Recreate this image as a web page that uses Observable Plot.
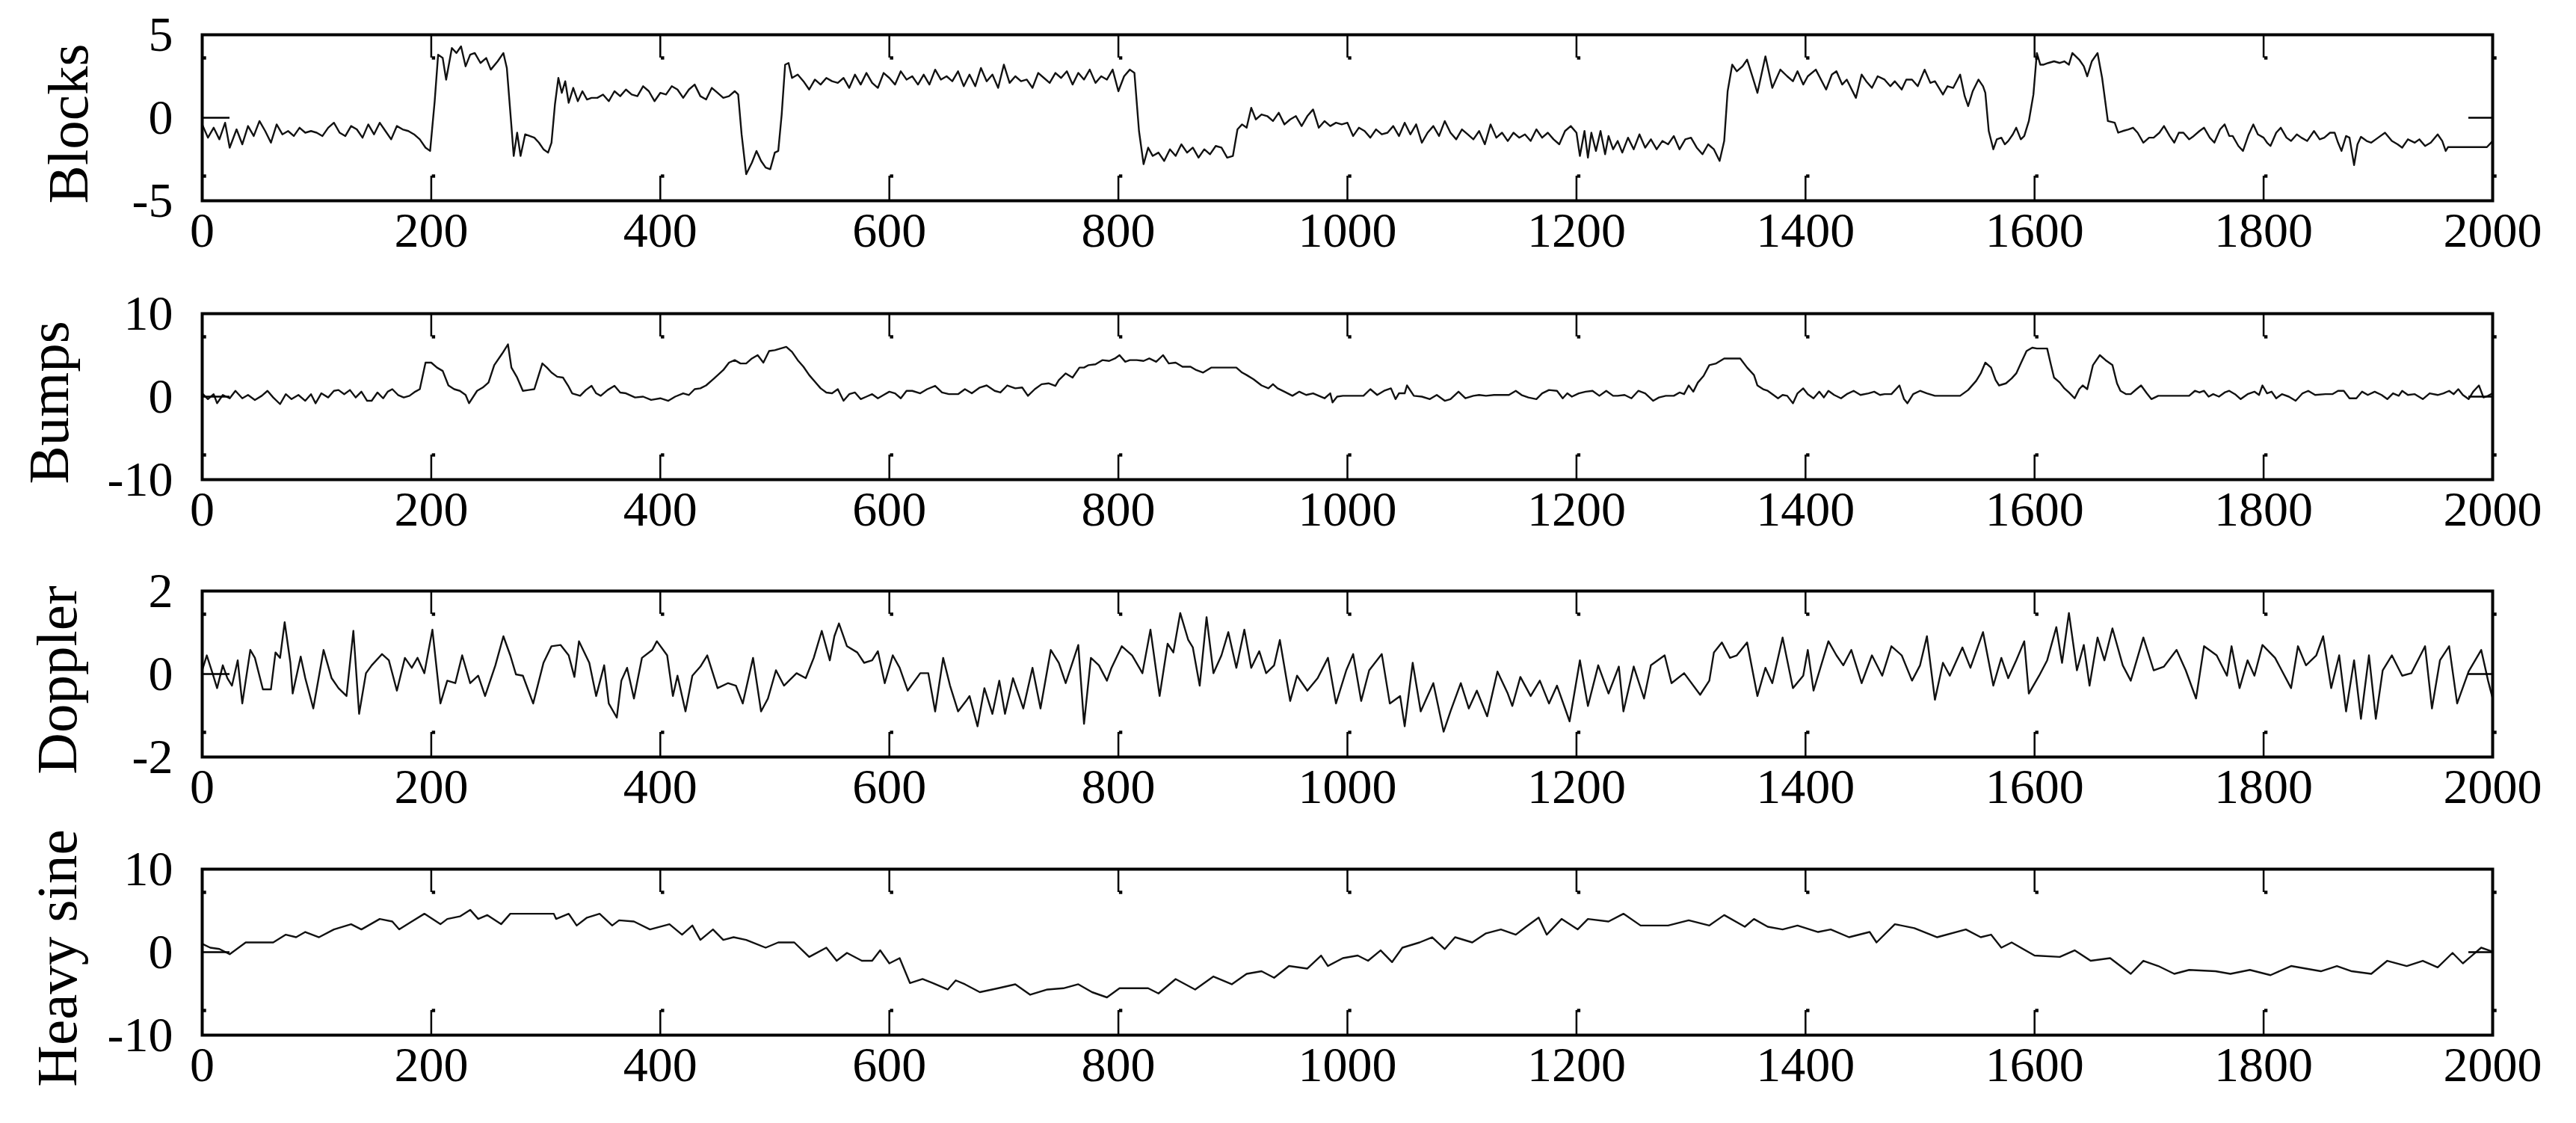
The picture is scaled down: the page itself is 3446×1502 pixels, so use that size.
<!DOCTYPE html>
<html><head><meta charset="utf-8">
<script src="https://cdn.jsdelivr.net/npm/d3@7"></script>
<script src="https://cdn.jsdelivr.net/npm/@observablehq/plot@0.6"></script>
<style>
body{margin:0;background:#fff;}
#chart{position:relative;width:3446px;height:1502px;background:#fff;overflow:hidden;}
#chart svg{position:absolute;left:0;}
</style></head><body><div id="chart"></div>
<script>
const xTicks = [0,200,400,600,800,1000,1200,1400,1600,1800,2000];
const seriesNames = ["Blocks","Bumps","Doppler","Heavy sine"];
const blocksTicks = [-5,0,5];
const bumpsTicks = [-10,0,10];
const dopplerTicks = [-2,0,2];
const heavyTicks = [-10,0,10];

const blocks = [[0,-0.4],[5,-1.2],[10,-0.6],[15,-1.3],[20,-0.3],[24,-1.8],[30,-0.7],[35,-1.6],[40,-0.5],[45,-1.1],[50,-0.2],[55,-0.8],[60,-1.5],[65,-0.4],[70,-1.0],[75,-0.8],[80,-1.1],[85,-0.6],[90,-0.9],[95,-0.8],[100,-0.9],[105,-1.1],[110,-0.6],[115,-0.3],[120,-0.9],[125,-1.1],[130,-0.5],[135,-0.7],[140,-1.2],[145,-0.4],[150,-1.0],[155,-0.3],[160,-0.8],[165,-1.3],[170,-0.5],[175,-0.7],[180,-0.8],[185,-1.0],[190,-1.3],[195,-1.8],[199,-2.0],[203,1.0],[206,3.8],[210,3.6],[213,2.3],[218,4.2],[222,3.9],[226,4.3],[230,3.1],[234,3.8],[238,3.9],[243,3.3],[248,3.6],[252,2.9],[258,3.4],[263,3.9],[266,3.0],[270,-0.5],[272,-2.3],[275,-0.9],[278,-2.3],[282,-1.0],[286,-1.1],[290,-1.2],[294,-1.5],[298,-1.9],[302,-2.1],[305,-1.5],[308,0.8],[311,2.4],[314,1.5],[317,2.2],[320,0.9],[324,1.8],[328,1.0],[332,1.6],[336,1.1],[340,1.2],[345,1.2],[350,1.4],[355,1.0],[360,1.6],[365,1.3],[370,1.7],[375,1.4],[380,1.3],[385,1.9],[390,1.6],[395,1.0],[400,1.5],[405,1.4],[410,1.9],[415,1.7],[420,1.2],[425,1.7],[430,2.0],[435,1.3],[440,1.1],[445,1.8],[450,1.5],[455,1.2],[460,1.3],[465,1.6],[468,1.4],[471,-1.0],[475,-3.4],[480,-2.7],[484,-2.0],[488,-2.6],[492,-3.0],[496,-3.1],[500,-2.1],[503,-2.0],[506,0.2],[509,3.2],[512,3.3],[515,2.4],[520,2.6],[525,2.2],[530,1.7],[535,2.3],[540,2.0],[545,2.4],[550,2.2],[555,2.1],[560,2.4],[565,1.8],[570,2.6],[575,2.0],[580,2.7],[585,2.1],[590,1.8],[595,2.7],[600,2.4],[605,2.0],[610,2.8],[615,2.3],[620,2.5],[625,2.0],[630,2.6],[635,2.0],[640,2.9],[645,2.3],[650,2.5],[655,2.2],[660,2.8],[665,1.9],[670,2.6],[675,1.9],[680,3.0],[685,2.2],[690,2.6],[695,1.8],[700,3.2],[705,2.1],[710,2.5],[715,2.2],[720,2.3],[725,1.8],[730,2.7],[735,2.4],[740,2.1],[745,2.7],[750,2.4],[755,2.8],[760,2.0],[765,2.7],[770,2.3],[775,2.9],[780,2.1],[785,2.5],[790,2.3],[795,2.9],[800,1.6],[805,2.5],[810,2.9],[814,2.7],[818,-0.8],[822,-2.8],[826,-1.8],[830,-2.3],[835,-2.1],[840,-2.6],[845,-1.9],[850,-2.3],[855,-1.6],[860,-2.1],[865,-1.8],[870,-2.4],[875,-1.9],[880,-2.2],[885,-1.7],[890,-1.8],[895,-2.4],[900,-2.3],[904,-0.7],[908,-0.4],[912,-0.6],[916,0.6],[920,-0.1],[925,0.2],[930,0.1],[935,-0.2],[940,0.3],[945,-0.4],[950,-0.1],[955,0.1],[960,-0.5],[965,0.1],[970,0.5],[975,-0.6],[980,-0.2],[985,-0.5],[990,-0.3],[995,-0.4],[1000,-0.3],[1005,-1.1],[1010,-0.6],[1015,-0.8],[1020,-1.2],[1025,-0.7],[1030,-1.0],[1035,-0.9],[1040,-0.5],[1045,-1.1],[1050,-0.3],[1055,-1.0],[1060,-0.4],[1065,-1.5],[1070,-0.9],[1075,-0.5],[1080,-1.1],[1085,-0.2],[1090,-0.9],[1095,-1.3],[1100,-0.7],[1105,-1.0],[1110,-1.3],[1115,-0.8],[1120,-1.6],[1125,-0.4],[1130,-1.2],[1135,-0.9],[1140,-1.4],[1145,-0.9],[1150,-1.2],[1155,-1.0],[1160,-1.4],[1165,-0.7],[1170,-1.2],[1175,-0.9],[1180,-1.3],[1185,-1.6],[1190,-0.8],[1195,-0.5],[1200,-0.9],[1203,-2.3],[1207,-0.8],[1210,-2.4],[1213,-0.9],[1217,-2.0],[1221,-0.8],[1225,-2.2],[1228,-1.1],[1232,-1.9],[1236,-1.4],[1240,-2.1],[1245,-1.2],[1250,-1.9],[1255,-1.0],[1260,-1.8],[1265,-1.3],[1270,-1.9],[1275,-1.4],[1280,-1.6],[1285,-1.1],[1290,-1.9],[1295,-1.3],[1300,-1.2],[1305,-1.8],[1310,-2.2],[1315,-1.6],[1320,-1.9],[1325,-2.6],[1329,-1.4],[1332,1.6],[1336,3.2],[1340,2.8],[1345,3.1],[1349,3.5],[1354,2.4],[1358,1.5],[1365,3.7],[1371,1.8],[1378,2.9],[1384,2.5],[1389,2.2],[1393,2.8],[1398,2.0],[1402,2.5],[1409,2.9],[1418,1.7],[1423,2.6],[1427,2.8],[1432,2.0],[1436,2.3],[1444,1.2],[1449,2.6],[1453,2.2],[1458,1.8],[1463,2.5],[1469,2.3],[1474,1.9],[1478,2.2],[1484,1.7],[1488,2.3],[1493,2.3],[1498,1.9],[1504,2.9],[1509,2.1],[1513,2.2],[1520,1.4],[1524,1.9],[1529,1.8],[1535,2.6],[1539,1.3],[1542,0.7],[1546,1.6],[1551,2.3],[1555,1.9],[1557,1.5],[1560,-0.8],[1564,-1.9],[1567,-1.3],[1571,-1.2],[1574,-1.6],[1577,-1.4],[1581,-1.0],[1584,-0.6],[1588,-1.3],[1591,-1.1],[1595,-0.2],[1599,1.4],[1602,3.9],[1605,3.2],[1608,3.2],[1612,3.3],[1617,3.4],[1622,3.3],[1626,3.4],[1630,3.2],[1633,3.9],[1639,3.5],[1643,3.1],[1646,2.5],[1650,3.4],[1655,3.9],[1659,2.4],[1664,-0.2],[1670,-0.3],[1673,-0.9],[1677,-0.8],[1682,-0.7],[1686,-0.6],[1690,-0.9],[1695,-1.5],[1700,-1.2],[1704,-1.2],[1709,-0.9],[1713,-0.5],[1718,-1.1],[1722,-1.5],[1726,-0.9],[1730,-0.9],[1735,-1.3],[1739,-1.1],[1744,-0.8],[1748,-0.6],[1753,-1.2],[1757,-1.5],[1762,-0.7],[1766,-0.4],[1770,-1.1],[1773,-1.1],[1778,-1.7],[1782,-2.0],[1787,-1.0],[1791,-0.4],[1795,-1.0],[1800,-1.2],[1803,-1.5],[1806,-1.7],[1811,-0.9],[1815,-0.6],[1820,-1.2],[1824,-1.4],[1829,-1.0],[1833,-1.2],[1838,-1.4],[1844,-0.8],[1849,-1.3],[1853,-1.2],[1858,-0.9],[1862,-0.9],[1865,-1.5],[1868,-2.0],[1872,-1.1],[1875,-1.2],[1879,-2.85],[1882,-1.6],[1885,-1.15],[1890,-1.4],[1894,-1.5],[1900,-1.2],[1906,-0.9],[1912,-1.4],[1917,-1.6],[1921,-1.8],[1926,-1.3],[1932,-1.5],[1936,-1.3],[1941,-1.7],[1946,-1.5],[1952,-1.0],[1956,-1.4],[1959,-2.0],[1961,-1.77],[1995,-1.77],[2000,-1.4]];

const bumps = [[0,0.4],[5,-0.3],[10,0.3],[13,-0.8],[18,0.2],[24,-0.2],[29,0.7],[35,-0.2],[40,0.2],[46,-0.4],[52,0.1],[57,0.7],[62,-0.1],[68,-0.9],[73,0.3],[78,-0.3],[84,0.2],[90,-0.5],[95,0.3],[99,-0.8],[104,0.4],[110,-0.1],[115,0.7],[119,0.8],[124,0.3],[129,0.8],[134,-0.1],[139,0.6],[144,-0.5],[148,-0.5],[153,0.5],[158,-0.2],[162,0.6],[166,0.9],[171,0.2],[176,-0.1],[181,0.1],[186,0.6],[190,0.9],[195,4.1],[200,4.1],[205,3.5],[210,3.1],[215,1.35],[220,0.9],[225,0.7],[230,0.2],[233,-0.8],[240,0.7],[245,1.1],[250,1.7],[255,3.8],[262,5.2],[267,6.3],[270,3.5],[275,2.3],[280,0.7],[285,0.8],[290,0.9],[297,4.0],[301,3.5],[305,2.9],[310,2.4],[315,2.3],[320,1.2],[323,0.4],[330,0.1],[335,0.8],[340,1.3],[344,0.4],[348,0.1],[354,0.8],[360,1.3],[365,0.5],[370,0.4],[378,-0.1],[385,0.0],[392,-0.4],[400,-0.2],[407,-0.5],[413,0.0],[420,0.4],[425,0.2],[430,0.9],[435,1.0],[440,1.35],[447,2.2],[455,3.2],[460,4.1],[465,4.4],[470,4.0],[475,4.0],[480,4.6],[485,5.0],[490,4.1],[495,5.5],[500,5.6],[505,5.8],[510,6.0],[515,5.4],[520,4.4],[525,3.6],[530,2.6],[535,1.8],[540,1.0],[545,0.5],[550,0.4],[555,0.9],[560,-0.5],[565,0.3],[570,0.5],[575,-0.3],[580,0.0],[585,0.3],[590,-0.2],[595,0.2],[600,0.6],[605,0.4],[610,-0.2],[615,0.7],[620,0.7],[627,0.4],[633,0.9],[640,1.3],[646,0.5],[652,0.3],[660,0.3],[666,0.9],[672,0.4],[679,1.1],[685,1.35],[692,0.7],[697,0.5],[703,1.35],[710,1.0],[716,1.1],[721,0.1],[727,0.9],[733,1.5],[739,1.6],[745,1.3],[748,2.0],[754,2.8],[760,2.3],[766,3.5],[770,3.5],[774,3.8],[780,3.9],[786,4.4],[792,4.3],[797,4.6],[801,5.0],[806,4.2],[810,4.4],[816,4.4],[822,4.3],[827,4.6],[833,4.2],[839,5.0],[844,4.0],[850,4.1],[856,3.6],[863,3.6],[868,3.2],[874,2.9],[881,3.5],[890,3.5],[898,3.5],[903,3.5],[908,2.9],[912,2.6],[918,2.1],[925,1.35],[931,1.0],[935,1.5],[939,1.0],[945,0.6],[952,0.1],[958,0.6],[964,0.2],[970,0.4],[975,0.1],[980,-0.2],[985,0.4],[987,-0.7],[991,0.0],[996,0.1],[1003,0.1],[1008,0.1],[1014,0.1],[1020,0.9],[1026,0.2],[1032,0.7],[1038,1.0],[1042,-0.3],[1045,0.4],[1050,0.4],[1052,1.35],[1058,0.1],[1065,0.0],[1072,-0.3],[1078,0.2],[1085,-0.5],[1090,-0.3],[1097,0.6],[1103,-0.2],[1110,0.1],[1115,0.2],[1121,0.1],[1128,0.2],[1135,0.2],[1141,0.2],[1147,0.7],[1152,0.2],[1158,-0.1],[1165,-0.3],[1170,0.4],[1176,0.8],[1183,0.7],[1188,-0.2],[1192,0.4],[1196,0.0],[1202,0.4],[1208,0.6],[1214,0.7],[1220,0.1],[1226,0.7],[1232,0.1],[1236,0.1],[1242,0.2],[1248,-0.2],[1254,0.7],[1260,0.4],[1267,-0.5],[1272,-0.1],[1278,0.1],[1285,0.1],[1290,0.5],[1294,0.3],[1298,1.35],[1302,0.6],[1306,1.7],[1311,2.5],[1316,3.8],[1322,4.0],[1329,4.6],[1336,4.6],[1343,4.6],[1349,3.5],[1355,2.6],[1358,1.35],[1363,0.9],[1367,0.7],[1372,0.2],[1376,-0.2],[1380,0.2],[1384,0.1],[1389,-0.8],[1393,0.4],[1398,1.0],[1402,0.3],[1407,-0.2],[1412,0.6],[1416,-0.1],[1420,0.7],[1425,0.2],[1431,-0.2],[1436,0.3],[1442,0.7],[1448,0.2],[1455,0.4],[1460,0.6],[1465,0.2],[1469,0.3],[1475,0.3],[1482,1.35],[1486,-0.3],[1489,-0.8],[1494,0.3],[1500,0.7],[1506,0.4],[1513,0.1],[1520,0.1],[1528,0.1],[1535,0.1],[1542,0.8],[1549,1.9],[1553,2.8],[1557,4.1],[1562,3.5],[1566,2.0],[1569,1.35],[1575,1.6],[1580,2.2],[1584,2.8],[1588,4.0],[1593,5.5],[1598,5.9],[1602,5.8],[1608,5.8],[1611,5.8],[1614,4.0],[1617,2.3],[1622,1.7],[1626,1.0],[1630,0.5],[1635,-0.2],[1639,0.9],[1642,1.35],[1646,0.9],[1651,3.8],[1657,5.0],[1662,4.4],[1668,3.8],[1672,1.6],[1675,0.7],[1680,0.3],[1684,0.3],[1689,0.9],[1693,1.35],[1698,0.4],[1702,-0.3],[1708,0.1],[1720,0.1],[1735,0.1],[1740,0.7],[1744,0.5],[1748,0.7],[1752,0.0],[1756,0.3],[1761,0.0],[1766,0.5],[1770,0.7],[1775,0.3],[1780,-0.3],[1786,0.3],[1792,0.6],[1796,0.2],[1799,1.35],[1803,0.4],[1807,0.6],[1811,-0.2],[1816,0.3],[1822,0.0],[1828,-0.5],[1834,0.4],[1839,0.7],[1845,0.2],[1854,0.3],[1860,0.3],[1865,0.7],[1870,0.7],[1875,-0.2],[1881,-0.2],[1886,0.6],[1891,0.2],[1897,0.6],[1903,0.2],[1908,-0.3],[1913,0.4],[1918,0.1],[1921,0.7],[1926,0.2],[1932,0.3],[1939,-0.3],[1945,0.4],[1952,0.2],[1957,0.4],[1962,0.7],[1966,0.3],[1970,0.9],[1974,0.2],[1979,-0.3],[1983,0.6],[1988,1.35],[1992,-0.1],[1996,0.1],[2000,0.4]];

const doppler = [[0,0.09],[4,0.45],[9,0.02],[13,-0.34],[18,0.21],[22,-0.10],[26,-0.28],[31,0.33],[35,-0.71],[42,0.58],[46,0.39],[53,-0.37],[60,-0.37],[64,0.52],[68,0.39],[72,1.25],[77,0.27],[79,-0.47],[86,0.42],[90,-0.10],[97,-0.83],[106,0.58],[113,-0.10],[119,-0.34],[126,-0.53],[132,1.04],[137,-0.96],[143,0.02],[148,0.21],[157,0.48],[163,0.33],[170,-0.40],[177,0.39],[183,0.15],[188,0.39],[194,0.02],[201,1.07],[208,-0.71],[214,-0.16],[221,-0.22],[227,0.45],[234,-0.22],[241,-0.04],[247,-0.53],[256,0.21],[263,0.91],[269,0.45],[274,-0.01],[280,-0.04],[289,-0.71],[298,0.27],[305,0.67],[313,0.70],[320,0.45],[325,-0.07],[329,0.79],[338,0.27],[344,-0.53],[351,0.21],[355,-0.71],[362,-1.05],[366,-0.16],[371,0.15],[377,-0.59],[384,0.39],[393,0.58],[397,0.79],[406,0.45],[411,-0.53],[415,-0.04],[422,-0.90],[428,-0.04],[435,0.18],[441,0.45],[450,-0.34],[459,-0.22],[466,-0.28],[472,-0.71],[481,0.39],[488,-0.90],[494,-0.59],[501,0.09],[508,-0.28],[519,0.02],[527,-0.10],[534,0.39],[541,1.04],[548,0.33],[552,0.91],[556,1.22],[563,0.67],[572,0.52],[578,0.27],[585,0.33],[590,0.55],[596,-0.22],[603,0.45],[609,0.15],[616,-0.40],[627,0.02],[634,0.02],[640,-0.90],[647,0.39],[653,-0.28],[660,-0.90],[667,-0.65],[670,-0.53],[677,-1.26],[683,-0.34],[690,-0.96],[696,-0.16],[701,-0.96],[708,-0.10],[717,-0.83],[725,0.15],[732,-0.83],[741,0.58],[748,0.27],[754,-0.22],[765,0.70],[770,-1.20],[776,0.39],[783,0.21],[790,-0.16],[794,0.15],[803,0.67],[812,0.45],[821,0.02],[828,1.07],[836,-0.53],[843,0.73],[848,0.52],[854,1.47],[861,0.82],[865,0.64],[871,-0.28],[877,1.37],[883,0.02],[890,0.45],[896,1.01],[903,0.15],[910,1.07],[916,0.15],[923,0.55],[929,0.02],[936,0.21],[941,0.82],[950,-0.65],[956,-0.04],[965,-0.40],[974,-0.10],[983,0.39],[990,-0.71],[999,0.09],[1005,0.48],[1012,-0.65],[1019,0.09],[1030,0.48],[1037,-0.71],[1046,-0.53],[1050,-1.26],[1057,0.27],[1064,-0.90],[1075,-0.22],[1084,-1.39],[1090,-0.90],[1099,-0.22],[1106,-0.83],[1113,-0.40],[1122,-1.02],[1131,0.06],[1140,-0.47],[1144,-0.77],[1151,-0.07],[1160,-0.53],[1168,-0.16],[1176,-0.71],[1183,-0.28],[1194,-1.14],[1203,0.33],[1210,-0.77],[1219,0.21],[1228,-0.47],[1237,0.18],[1241,-0.90],[1250,0.18],[1259,-0.59],[1265,0.21],[1277,0.45],[1283,-0.22],[1294,0.02],[1308,-0.50],[1316,-0.16],[1320,0.52],[1327,0.76],[1334,0.39],[1340,0.45],[1349,0.76],[1358,-0.53],[1365,0.15],[1371,-0.22],[1380,0.88],[1389,-0.34],[1398,-0.04],[1402,0.58],[1407,-0.40],[1413,0.15],[1420,0.79],[1427,0.45],[1433,0.21],[1440,0.58],[1449,-0.22],[1458,0.45],[1467,-0.04],[1475,0.67],[1484,0.45],[1493,-0.16],[1500,0.21],[1506,0.91],[1513,-0.62],[1520,0.27],[1526,-0.04],[1537,0.64],[1544,0.15],[1555,1.01],[1564,-0.28],[1571,0.39],[1577,-0.10],[1584,0.33],[1591,0.79],[1595,-0.47],[1604,-0.04],[1611,0.33],[1619,1.13],[1624,0.27],[1630,1.47],[1637,0.09],[1643,0.70],[1648,-0.28],[1655,0.88],[1661,0.33],[1668,1.10],[1677,0.21],[1684,-0.16],[1695,0.88],[1704,0.09],[1713,0.18],[1724,0.58],[1732,0.09],[1741,-0.59],[1748,0.67],[1759,0.45],[1768,-0.04],[1772,0.67],[1779,-0.34],[1786,0.33],[1792,-0.04],[1799,0.70],[1810,0.39],[1824,-0.34],[1830,0.67],[1837,0.21],[1846,0.45],[1852,0.91],[1859,-0.34],[1866,0.45],[1872,-0.90],[1879,0.33],[1885,-1.08],[1892,0.45],[1898,-1.08],[1904,0.09],[1912,0.45],[1921,-0.04],[1929,0.02],[1941,0.67],[1947,-0.83],[1954,0.33],[1962,0.67],[1969,-0.71],[1979,0.06],[1990,0.58],[1996,-0.16],[2000,-0.59]];

const heavySine = [[0,1.0],[7,0.54],[15,0.38],[24,-0.25],[38,1.17],[50,1.17],[62,1.17],[73,2.11],[82,1.80],[90,2.43],[102,1.80],[115,2.74],[130,3.37],[139,2.74],[155,4.0],[166,3.69],[172,2.74],[183,3.69],[194,4.63],[208,3.37],[214,4.0],[225,4.31],[234,5.10],[241,4.0],[249,4.47],[261,3.37],[269,4.63],[290,4.63],[307,4.63],[309,4.0],[320,4.63],[327,3.21],[336,4.16],[347,4.63],[358,3.21],[364,3.84],[377,3.69],[391,2.74],[408,3.37],[419,2.11],[428,3.21],[435,1.48],[446,2.74],[455,1.48],[464,1.80],[475,1.48],[492,0.54],[503,1.17],[517,1.17],[530,-0.57],[545,0.54],[554,-1.04],[563,-0.09],[576,-1.04],[585,-1.04],[592,0.22],[600,-1.35],[609,-0.72],[618,-3.72],[629,-3.24],[638,-3.72],[651,-4.50],[658,-3.40],[666,-3.87],[679,-4.82],[695,-4.35],[710,-3.87],[723,-5.13],[738,-4.50],[752,-4.35],[765,-3.87],[777,-4.82],[790,-5.45],[801,-4.35],[826,-4.35],[835,-4.98],[850,-3.24],[867,-4.50],[883,-2.93],[899,-3.87],[912,-2.61],[925,-2.30],[936,-3.09],[949,-1.67],[965,-1.98],[977,-0.41],[983,-1.67],[996,-0.72],[1009,-0.41],[1018,-1.04],[1029,0.22],[1039,-1.20],[1048,0.54],[1063,1.17],[1074,1.80],[1085,0.38],[1094,1.80],[1109,1.17],[1121,2.27],[1134,2.74],[1147,2.11],[1156,3.06],[1167,4.16],[1174,2.11],[1187,4.0],[1201,2.74],[1210,4.0],[1228,3.69],[1241,4.63],[1256,3.21],[1280,3.21],[1298,3.84],[1316,3.21],[1329,4.47],[1347,3.06],[1355,4.0],[1367,3.06],[1380,2.74],[1393,3.21],[1411,2.43],[1422,2.74],[1438,1.80],[1456,2.43],[1462,1.17],[1478,3.37],[1495,2.90],[1515,1.80],[1540,2.74],[1553,1.80],[1562,2.11],[1571,0.54],[1580,1.17],[1600,-0.41],[1622,-0.57],[1635,0.22],[1649,-1.04],[1666,-0.72],[1684,-2.61],[1695,-1.04],[1708,-1.67],[1722,-2.61],[1735,-2.14],[1758,-2.30],[1771,-2.61],[1788,-2.14],[1806,-2.77],[1824,-1.67],[1850,-2.30],[1864,-1.67],[1877,-2.30],[1894,-2.61],[1908,-1.04],[1925,-1.67],[1939,-1.04],[1952,-1.83],[1965,-0.09],[1974,-1.35],[1990,0.54],[2000,0.06]];

const W = 3446, LEFT = 270, RIGHT = 3334, INNER_H = 222, SVG_H = 372, MARGIN_TOP = 46;
const INNER_W = RIGHT - LEFT;
const FONT = "'Liberation Serif','Times New Roman',serif";

const panels = [
  {name: seriesNames[0], data: blocks, yTicks: blocksTicks, top: 0, labelX: 92},
  {name: seriesNames[1], data: bumps, yTicks: bumpsTicks, top: 373, labelX: 66},
  {name: seriesNames[2], data: doppler, yTicks: dopplerTicks, top: 744, labelX: 77},
  {name: seriesNames[3], data: heavySine, yTicks: heavyTicks, top: 1116, labelX: 77}
];

const chart = document.getElementById("chart");
panels.forEach(p => {
  const svg = Plot.plot({
    width: W, height: SVG_H,
    marginLeft: LEFT, marginRight: W - RIGHT,
    marginTop: MARGIN_TOP, marginBottom: SVG_H - MARGIN_TOP - INNER_H,
    style: {fontFamily: FONT, background: "transparent", color: "black", overflow: "visible"},
    x: {domain: [0, 2000]},
    y: {domain: [p.yTicks[0], p.yTicks[p.yTicks.length - 1]]},
    marks: [
      Plot.line(p.data, {x: d => d[0], y: d => d[1], stroke: "#111", strokeWidth: 2.4}),
      Plot.ruleX(xTicks, {stroke: "black", strokeWidth: 2.5, insetBottom: INNER_H - 31}),
      Plot.ruleX(xTicks, {stroke: "black", strokeWidth: 2.5, insetTop: INNER_H - 33}),
      Plot.dot(xTicks, {x: d => d, frameAnchor: "top", dy: 31, dx: 3, symbol: "square", r: 2.5, fill: "black", stroke: null}),
      Plot.dot(xTicks, {x: d => d, frameAnchor: "bottom", dy: -33, dx: 3, symbol: "square", r: 2.5, fill: "black", stroke: null}),
      Plot.ruleY([0], {stroke: "black", strokeWidth: 2.5, insetRight: INNER_W - 37}),
      Plot.ruleY([0], {stroke: "black", strokeWidth: 2.5, insetLeft: INNER_W - 32}),
      Plot.frame({stroke: "black", strokeWidth: 4}),
      Plot.axisX({ticks: xTicks, tickSize: 0, tickPadding: 15, fontSize: 66, label: null, tickFormat: d => String(d)}),
      Plot.axisY({ticks: p.yTicks, tickSize: 0, tickPadding: 39, fontSize: 66, label: null, tickFormat: d => String(d)}),
      Plot.text([p.name], {text: d => d, frameAnchor: "left", textAnchor: "middle", rotate: -90, dx: p.labelX - LEFT, dy: 8, fontSize: 77, lineAnchor: "middle", fill: "black"})
    ]
  });
  svg.style.top = p.top + "px";
  chart.appendChild(svg);
});
</script>
</body></html>
